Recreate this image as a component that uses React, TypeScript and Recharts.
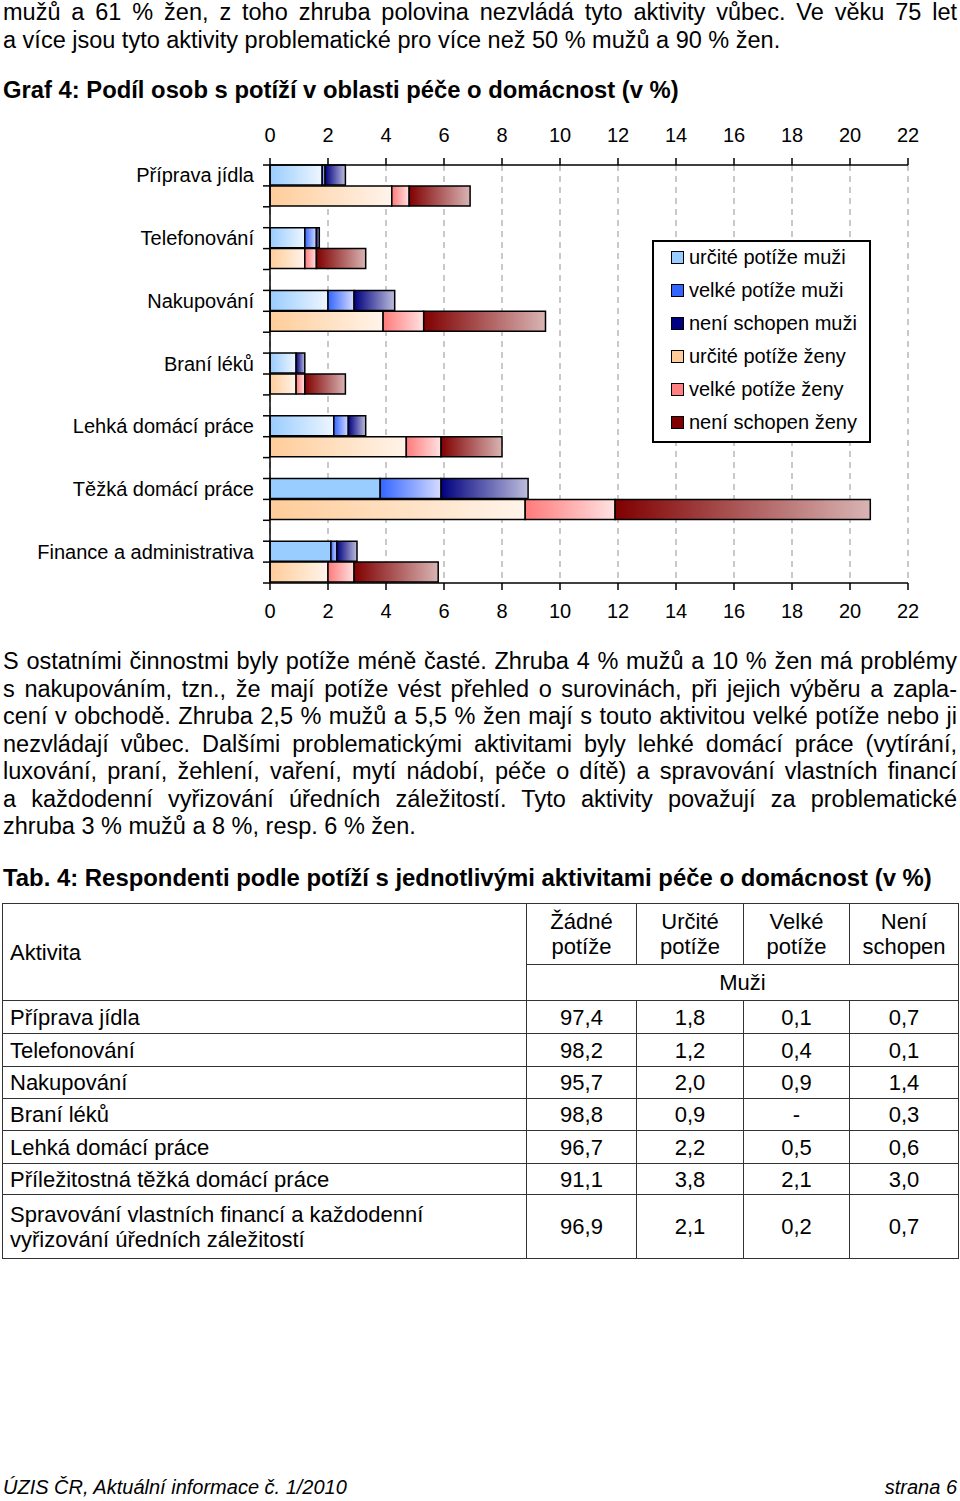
import React from "react";
import { BarChart, Bar, XAxis, YAxis, CartesianGrid, Legend, Cell } from "recharts";

// Graf 4 - podíl osob s potíží v oblasti péče o domácnost (v %)
const categories = [
  "Příprava jídla",
  "Telefonování",
  "Nakupování",
  "Braní léků",
  "Lehká domácí práce",
  "Těžká domácí práce",
  "Finance a administrativa",
];
const menCertain = [1.8, 1.2, 2.0, 0.9, 2.2, 3.8, 2.1];
const menSevere = [0.1, 0.4, 0.9, 0, 0.5, 2.1, 0.2];
const menUnable = [0.7, 0.1, 1.4, 0.3, 0.6, 3.0, 0.7];
const womenCertain = [4.2, 1.2, 3.9, 0.9, 4.7, 8.8, 2.0];
const womenSevere = [0.6, 0.4, 1.4, 0.3, 1.2, 3.1, 0.9];
const womenUnable = [2.1, 1.7, 4.2, 1.4, 2.1, 8.8, 2.9];
const seriesNames = [
  "určité potíže muži",
  "velké potíže muži",
  "není schopen muži",
  "určité potíže ženy",
  "velké potíže ženy",
  "není schopen ženy",
];
const xTicks = [0, 2, 4, 6, 8, 10, 12, 14, 16, 18, 20, 22];

// Tab. 4
const tableActivities = [
  "Příprava jídla",
  "Telefonování",
  "Nakupování",
  "Braní léků",
  "Lehká domácí práce",
  "Příležitostná těžká domácí práce",
  "Spravování vlastních financí a každodenní\nvyřizování úředních záležitostí",
];
const tableHeads = ["Žádné\npotíže", "Určité\npotíže", "Velké\npotíže", "Není\nschopen"];
const menNone = [97.4, 98.2, 95.7, 98.8, 96.7, 91.1, 96.9];

const FONT = "'Liberation Sans', Arial, Helvetica, sans-serif";

// styles per series (same order as seriesNames)
const SERIES = [
  { key: "mc", vals: menCertain, solid: "#99CCFF", from: "#99CCFF", to: "#EEF6FF" },
  { key: "ms", vals: menSevere, solid: "#3366FF", from: "#3366FF", to: "#D6DCFF" },
  { key: "mu", vals: menUnable, solid: "#000080", from: "#000080", to: "#BDBDDD" },
  { key: "wc", vals: womenCertain, solid: "#FFCC99", from: "#FFCC99", to: "#FFF4EA" },
  { key: "ws", vals: womenSevere, solid: "#FF8080", from: "#FF7A7A", to: "#FFE2E2" },
  { key: "wu", vals: womenUnable, solid: "#800000", from: "#800000", to: "#D9B4B4" },
];
// these bars were drawn without the gradient in the original
const flatMenCertain = ["Těžká domácí práce", "Finance a administrativa"];

type Row = { key: string; label: string; cat: string; [k: string]: any };

const rows: Row[] = categories.flatMap((cat, i) => {
  const m: Row = { key: `${i}-m`, label: cat, cat };
  const z: Row = { key: `${i}-z`, label: "", cat };
  SERIES.forEach((s, si) => {
    if (si < 3) m[s.key] = s.vals[i];
    else z[s.key] = s.vals[i];
  });
  const out = [m, z];
  if (i < categories.length - 1) out.push({ key: `${i}-gap`, label: "", cat });
  return out;
});

const PLOT_H = 418;
const HALF_BAND = PLOT_H / rows.length / 2;

const RowTick = (props: any) => {
  const { x, y, payload } = props;
  const idx = rows.findIndex((r) => r.key === payload.value);
  const row = rows[idx];
  return (
    <g>
      <line x1={x - 7} x2={x} y1={y - HALF_BAND} y2={y - HALF_BAND} stroke="#000" strokeWidth={1.5} />
      {idx === rows.length - 1 && (
        <line x1={x - 7} x2={x} y1={y + HALF_BAND} y2={y + HALF_BAND} stroke="#000" strokeWidth={1.5} />
      )}
      {row && row.label && (
        <text x={x - 16} y={y} dy="0.35em" textAnchor="end" fontSize={20} fontFamily={FONT} fill="#000">
          {row.label}
        </text>
      )}
    </g>
  );
};

const LegendBox = () => (
  <div
    style={{
      width: 219,
      height: 203,
      boxSizing: "border-box",
      border: "2px solid #000",
      background: "#fff",
      paddingLeft: 17,
      fontFamily: FONT,
      fontSize: 20,
      color: "#000",
    }}
  >
    {SERIES.map((s, i) => (
      <div key={s.key} style={{ display: "flex", alignItems: "center", height: 33, marginTop: i === 0 ? -1 : 0 }}>
        <span
          style={{
            display: "inline-block",
            width: 11,
            height: 11,
            border: "1px solid #000",
            background: s.solid,
            marginRight: 5,
          }}
        />
        <span style={{ whiteSpace: "nowrap" }}>{seriesNames[i]}</span>
      </div>
    ))}
  </div>
);

const Line = ({ y, text, justify, bold, size = 23.5 }: any) => (
  <div
    style={{
      position: "absolute",
      left: 3,
      width: 954,
      top: y - 14,
      height: 28,
      lineHeight: "28px",
      fontSize: size,
      fontWeight: bold ? "bold" : "normal",
      textAlign: justify ? "justify" : "left",
      textAlignLast: justify ? "justify" : "left",
      whiteSpace: justify ? "normal" : "nowrap",
    }}
  >
    {text}
  </div>
);

const para1 = [
  "mužů a 61 % žen, z toho zhruba polovina nezvládá tyto aktivity vůbec. Ve věku 75 let",
  "a více jsou tyto aktivity problematické pro více než 50 % mužů a 90 % žen.",
];
const para2 = [
  "S ostatními činnostmi byly potíže méně časté. Zhruba 4 % mužů a 10 % žen má problémy",
  "s nakupováním, tzn., že mají potíže vést přehled o surovinách, při jejich výběru a zapla-",
  "cení v obchodě. Zhruba 2,5 % mužů a 5,5 % žen mají s touto aktivitou velké potíže nebo ji",
  "nezvládají vůbec. Dalšími problematickými aktivitami byly lehké domácí práce (vytírání,",
  "luxování, praní, žehlení, vaření, mytí nádobí, péče o dítě) a spravování vlastních financí",
  "a každodenní vyřizování úředních záležitostí. Tyto aktivity považují za problematické",
  "zhruba 3 % mužů a 8 %, resp. 6 % žen.",
];

const fmt = (v: number) => (v === 0 ? "-" : v.toFixed(1).replace(".", ","));

const cellBorder = "1px solid #333";
const rowHeights = [33, 33, 32, 32, 33, 31, 64];

export default function App() {
  return (
    <div
      style={{
        position: "absolute",
        left: 0,
        top: 0,
        width: 960,
        height: 1501,
        background: "#fff",
        color: "#000",
        fontFamily: FONT,
        overflow: "hidden",
      }}
    >
      {para1.map((t, i) => (
        <Line key={i} y={12 + i * 27.8} text={t} justify={i < para1.length - 1} />
      ))}
      <Line y={90} size={23.8} text="Graf 4: Podíl osob s potíží v oblasti péče o domácnost (v %)" bold />

      <div style={{ position: "absolute", left: 0, top: 100 }}>
        <BarChart
          width={960}
          height={530}
          data={rows}
          layout="vertical"
          margin={{ top: 25, right: 52, bottom: 7, left: 0 }}
        >
          <defs>
            {SERIES.map((s) => (
              <linearGradient key={s.key} id={`g-${s.key}`} x1="0" y1="0" x2="1" y2="0">
                <stop offset="0%" stopColor={s.from} />
                <stop offset="100%" stopColor={s.to} />
              </linearGradient>
            ))}
          </defs>
          <CartesianGrid
            xAxisId="bottom"
            horizontal={false}
            stroke="#b8b8b8"
            strokeWidth={1.5}
            strokeDasharray="6 5"
          />
          <XAxis
            xAxisId="top"
            orientation="top"
            type="number"
            domain={[0, 22]}
            allowDataOverflow
            ticks={xTicks}
            height={40}
            axisLine={{ stroke: "#000", strokeWidth: 1.5 }}
            tickLine={{ stroke: "#000", strokeWidth: 1.5 }}
            tickSize={7}
            tickMargin={16}
            tick={{ fill: "#000", fontSize: 20, fontFamily: FONT }}
          />
          <XAxis
            xAxisId="bottom"
            orientation="bottom"
            type="number"
            domain={[0, 22]}
            ticks={xTicks}
            height={40}
            axisLine={{ stroke: "#000", strokeWidth: 1.5 }}
            tickLine={{ stroke: "#000", strokeWidth: 1.5 }}
            tickSize={7}
            tickMargin={14}
            tick={{ fill: "#000", fontSize: 20, fontFamily: FONT }}
          />
          <YAxis
            type="category"
            dataKey="key"
            width={270}
            interval={0}
            tickLine={false}
            tickSize={0}
            tickMargin={0}
            axisLine={{ stroke: "#000", strokeWidth: 1.5 }}
            tick={<RowTick />}
          />
          {SERIES.map((s, si) => (
            <Bar
              key={s.key}
              xAxisId="bottom"
              dataKey={s.key}
              name={seriesNames[si]}
              stackId="a"
              barSize={20}
              fill={`url(#g-${s.key})`}
              stroke="#000"
              strokeWidth={1.5}
              isAnimationActive={false}
            >
              {s.key === "mc" &&
                rows.map((r) => (
                  <Cell key={r.key} fill={flatMenCertain.includes(r.cat) ? s.solid : `url(#g-${s.key})`} />
                ))}
            </Bar>
          ))}
          <Legend
            layout="vertical"
            align="center"
            verticalAlign="middle"
            wrapperStyle={{ left: 652, top: 140, width: 219, height: 203 }}
            content={() => <LegendBox />}
          />
        </BarChart>
      </div>

      {para2.map((t, i) => (
        <Line key={i} y={661 + i * 27.5} text={t} justify={i < para2.length - 1} />
      ))}
      <Line
        y={878}
        size={23.9}
        text="Tab. 4: Respondenti podle potíží s jednotlivými aktivitami péče o domácnost (v %)"
        bold
      />

      <table
        style={{
          position: "absolute",
          left: 2,
          top: 903,
          width: 956,
          borderCollapse: "collapse",
          tableLayout: "fixed",
          fontSize: 22,
          lineHeight: "25px",
          border: cellBorder,
        }}
      >
        <colgroup>
          <col style={{ width: 524 }} />
          <col style={{ width: 110 }} />
          <col style={{ width: 107 }} />
          <col style={{ width: 106 }} />
          <col style={{ width: 109 }} />
        </colgroup>
        <tbody>
          <tr style={{ height: 61 }}>
            <td rowSpan={2} style={{ border: cellBorder, padding: "0 7px", verticalAlign: "middle" }}>
              Aktivita
            </td>
            {tableHeads.map((h) => (
              <td
                key={h}
                style={{ border: cellBorder, textAlign: "center", whiteSpace: "pre-line", padding: 0 }}
              >
                {h}
              </td>
            ))}
          </tr>
          <tr style={{ height: 36 }}>
            <td colSpan={4} style={{ border: cellBorder, textAlign: "center", padding: 0 }}>
              Muži
            </td>
          </tr>
          {tableActivities.map((a, i) => (
            <tr key={a} style={{ height: rowHeights[i] }}>
              <td style={{ border: cellBorder, padding: "0 7px", whiteSpace: "pre-line" }}>{a}</td>
              {[menNone[i], menCertain[i], menSevere[i], menUnable[i]].map((v, j) => (
                <td key={j} style={{ border: cellBorder, textAlign: "center", padding: 0 }}>
                  {fmt(v)}
                </td>
              ))}
            </tr>
          ))}
        </tbody>
      </table>

      <div
        style={{
          position: "absolute",
          left: 3,
          right: 3,
          top: 1474,
          fontSize: 20,
          lineHeight: "26px",
          fontStyle: "italic",
          display: "flex",
          justifyContent: "space-between",
        }}
      >
        <span>ÚZIS ČR, Aktuální informace č. 1/2010</span>
        <span>strana 6</span>
      </div>
    </div>
  );
}
